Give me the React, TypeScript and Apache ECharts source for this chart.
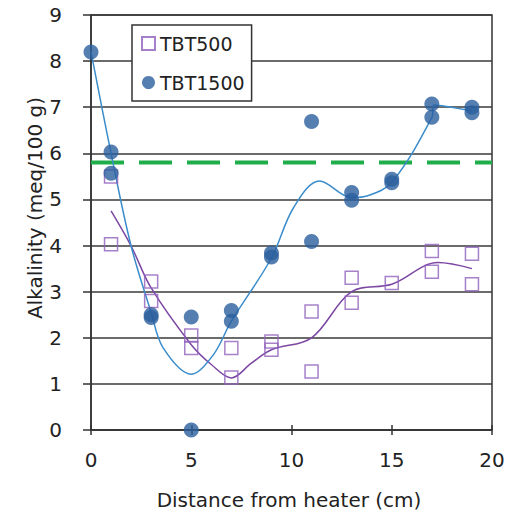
import React, { useEffect, useRef } from "react";
import * as echarts from "echarts";

// Measured points
const tbt500X = [1, 1, 3, 3, 5, 5, 7, 7, 9, 9, 11, 11, 13, 13, 15, 17, 17, 19, 19];
const tbt500Y = [5.5, 4.03, 3.22, 2.8, 2.05, 1.78, 1.78, 1.14, 1.92, 1.74, 2.57, 1.27, 3.3, 2.76, 3.19, 3.88, 3.43, 3.82, 3.16];

const tbt1500X = [0, 1, 1, 3, 3, 5, 5, 7, 7, 9, 9, 11, 11, 13, 13, 15, 15, 17, 17, 19, 19];
const tbt1500Y = [8.2, 6.03, 5.57, 2.5, 2.44, 2.45, 0, 2.59, 2.36, 3.84, 3.75, 6.69, 4.09, 5.15, 4.98, 5.44, 5.36, 7.07, 6.78, 7.0, 6.88];

// Fitted (smoothed) curves
const fit500X = [1, 2, 3, 5, 6, 7, 8, 9, 11, 13, 15, 17.3, 19];
const fit500Y = [4.75, 3.99, 3.08, 1.85, 1.42, 1.13, 1.45, 1.74, 2.0, 3.0, 3.16, 3.63, 3.5];

const fit1500X = [0, 1, 2, 3, 3.6, 5, 6.1, 7, 9, 10.1, 11.4, 13, 13.8, 15, 17, 17.1, 19];
const fit1500Y = [8.2, 6.0, 3.99, 2.55, 1.78, 1.21, 1.63, 2.36, 3.73, 4.82, 5.4, 5.04, 5.08, 5.37, 6.78, 7.05, 6.92];

// Reference level
const referenceLevel = 5.8;
const xRange = [0, 20];

const xTitle = "Distance from heater (cm)";
const yTitle = "Alkalinity (meq/100 g)";

const FONT = "DejaVu Sans";

const pairs = (xs: number[], ys: number[]) => xs.map((x, i) => [x, ys[i]]);

export default function App() {
  const ref = useRef<HTMLDivElement>(null);
  useEffect(() => {
    const chart = echarts.init(ref.current!, null, { renderer: "svg" });
    const axisColor = "#333";
    chart.setOption({
      animation: false,
      backgroundColor: "#fff",
      grid: {
        left: 91,
        right: 22,
        top: 15,
        bottom: 84,
        show: true,
        borderColor: axisColor,
        borderWidth: 1.5,
      },
      legend: {
        data: ["TBT500", "TBT1500"],
        orient: "vertical",
        left: 132,
        top: 25,
        backgroundColor: "#fff",
        borderColor: axisColor,
        borderWidth: 1.5,
        padding: [9, 7, 9, 9],
        itemWidth: 13,
        itemHeight: 13,
        itemGap: 20,
        textStyle: { fontSize: 19, color: "#222", fontFamily: FONT },
      },
      xAxis: [
        {
          type: "value",
          min: 0,
          max: 20,
          interval: 5,
          axisLine: { show: true, onZero: false, lineStyle: { color: axisColor, width: 1.5 } },
          axisTick: { show: true, length: 5, lineStyle: { color: axisColor, width: 1.5 } },
          axisLabel: { fontSize: 20, margin: 20, color: "#222", fontFamily: FONT },
          splitLine: { show: false },
        },
        {
          type: "value",
          min: 0,
          max: 20,
          interval: 5,
          position: "bottom",
          axisLine: { show: false },
          axisTick: { show: true, inside: true, length: 5, lineStyle: { color: axisColor, width: 1.5 } },
          axisLabel: { show: false },
          splitLine: { show: false },
        },
      ],
      yAxis: {
        type: "value",
        min: 0,
        max: 9,
        interval: 1,
        axisLine: { show: true, onZero: false, lineStyle: { color: axisColor, width: 1.5 } },
        axisTick: { show: true, length: 8, lineStyle: { color: axisColor, width: 1.5 } },
        axisLabel: { fontSize: 20, margin: 29, color: "#222", fontFamily: FONT },
        splitLine: { show: true, lineStyle: { color: "#3a3a3a", width: 1.5 } },
      },
      graphic: [
        {
          type: "text",
          x: 35,
          y: 208,
          rotation: Math.PI / 2,
          style: {
            text: yTitle,
            fontSize: 20,
            fontFamily: FONT,
            fill: "#222",
            textAlign: "center",
            textVerticalAlign: "middle",
          },
        },
        {
          type: "text",
          x: 289,
          y: 500,
          style: {
            text: xTitle,
            fontSize: 20,
            fontFamily: FONT,
            fill: "#222",
            textAlign: "center",
            textVerticalAlign: "middle",
          },
        },
      ],
      series: [
        {
          name: "reference",
          type: "line",
          data: [
            [xRange[0], referenceLevel],
            [xRange[1], referenceLevel],
          ],
          showSymbol: false,
          symbol: "none",
          silent: true,
          lineStyle: { color: "#1fae4a", width: 4, type: [33, 15] },
          z: 2,
        },
        {
          name: "fit500",
          type: "line",
          data: pairs(fit500X, fit500Y),
          smooth: 0.35,
          symbol: "none",
          silent: true,
          lineStyle: { color: "#7b47a3", width: 1.5 },
          z: 3,
        },
        {
          name: "fit1500",
          type: "line",
          data: pairs(fit1500X, fit1500Y),
          smooth: 0.35,
          symbol: "none",
          silent: true,
          lineStyle: { color: "#3b8ccb", width: 1.5 },
          z: 3,
        },
        {
          name: "TBT500",
          type: "scatter",
          data: pairs(tbt500X, tbt500Y),
          symbol: "rect",
          symbolSize: 13,
          clip: false,
          itemStyle: { color: "rgba(255,255,255,0)", borderColor: "#9060bb", borderWidth: 1.5 },
          z: 4,
        },
        {
          name: "TBT1500",
          type: "scatter",
          data: pairs(tbt1500X, tbt1500Y),
          symbol: "circle",
          symbolSize: 15,
          clip: false,
          itemStyle: { color: "#2a5f9e" },
          z: 5,
        },
      ],
    });
    return () => chart.dispose();
  }, []);
  return (
    <div
      ref={ref}
      style={{ position: "fixed", left: 0, top: 0, width: 514, height: 514 }}
    />
  );
}
